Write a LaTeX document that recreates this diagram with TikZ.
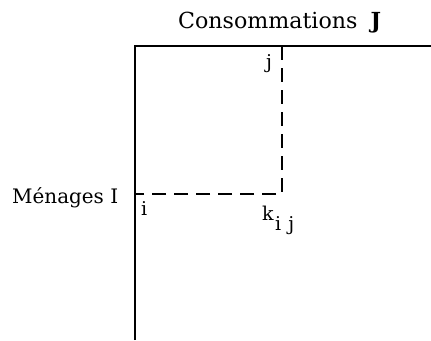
\documentclass[tikz,border=0pt]{standalone}
\usepackage{graphicx}
\usepackage{fontspec}
\setmainfont{DejaVu Serif}
\begin{document}
\begin{tikzpicture}[x=1pt,y=-1pt,
  solidline/.style={line width=2.8pt},
  thinsolid/.style={line width=2.2pt},
  dashline/.style={line width=2pt,dash pattern=on 14pt off 8pt},
  lab/.style={inner sep=0pt,font=\fontsize{19}{22}\selectfont}]
\useasboundingbox (0,0) rectangle (431,340);
\coordinate (top) at (135,46);
\coordinate (bot) at (135,340);
\coordinate (right) at (431,46);
\coordinate (jtop) at (282,46);
\coordinate (k) at (282,194);
\coordinate (iside) at (135,194);
\draw[solidline] (bot) -- (top) -- (jtop);
\draw[thinsolid] (jtop) -- (right);
\draw[dashline] (jtop) -- (k) -- (iside);
\node[lab,anchor=base west] (cons) at (178,28) {\resizebox{203pt}{!}{Consommations\hspace{0.6em}\textbf{J}}};
\node[lab,anchor=base west] (men) at (12,203) {\resizebox{106pt}{!}{Ménages I}};
\node[lab,anchor=base west] (j) at (266,68) {j};
\node[lab,anchor=base west] (i) at (141,215) {i};
\node[lab,anchor=base west] (kij) at (262,220) {k\kern1.5pt\raisebox{-10pt}{i\kern7pt j}};
\end{tikzpicture}
\end{document}
